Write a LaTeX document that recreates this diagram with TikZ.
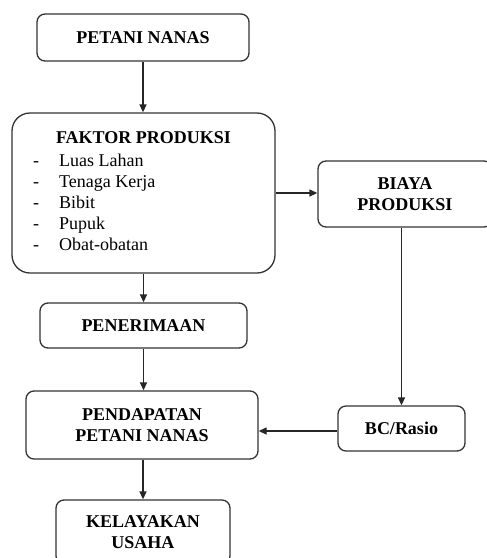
\documentclass[tikz,border=0pt]{standalone}
\usepackage{fontspec}
\setmainfont{Liberation Serif}
\usetikzlibrary{arrows.meta,positioning,calc}
\tikzset{
  flowbox/.style={draw=black!80, line width=1.3pt, rounded corners=8pt,
    align=center, font=\bfseries, inner sep=2pt},
  flowarrow/.style={-{Triangle[length=8pt,width=7pt]}, line width=1.3pt, draw=black!85}
}
\begin{document}
\begin{tikzpicture}[x=1pt,y=-1pt]
  \fontsize{18}{21}\selectfont
  \useasboundingbox (0,0) rectangle (487,558);
  \node[flowbox, minimum width=212pt, minimum height=47pt] (petani) at (143,37.5) {PETANI NANAS};
  \node[flowbox, rounded corners=18pt, minimum width=263pt, minimum height=160pt] (faktor) at (143.5,193) {};
  \node[font=\bfseries, anchor=base] (faktortitle) at (143.5,143) {FAKTOR PRODUKSI};
  \node[anchor=base west, inner sep=0pt, align=left] (faktorlist) at (33,166)
    {\begin{tabular}[t]{@{}p{26pt}@{}l@{}}
      - & Luas Lahan\\ - & Tenaga Kerja\\ - & Bibit\\ - & Pupuk\\ - & Obat-obatan
    \end{tabular}};
  \node[flowbox, minimum width=174pt, minimum height=66pt] (biaya) at (405,194) {BIAYA\\PRODUKSI};
  \node[flowbox, minimum width=207pt, minimum height=45pt] (penerimaan) at (143.5,325.5) {PENERIMAAN};
  \node[flowbox, minimum width=232pt, minimum height=68pt] (pendapatan) at (142,425) {PENDAPATAN\\PETANI NANAS};
  \node[flowbox, minimum width=127pt, minimum height=45pt] (bcrasio) at (401.5,428.5) {BC/Rasio};
  \node[flowbox, minimum width=174pt, minimum height=64pt] (kelayakan) at (143,532) {KELAYAKAN\\USAHA};
  % arrows
  \draw[flowarrow] (petani.south) -- (petani.south |- faktor.north);
  \draw[flowarrow] (faktor.south -| penerimaan.north) -- (penerimaan.north);
  \draw[flowarrow] (penerimaan.south) -- (penerimaan.south |- pendapatan.north);
  \draw[flowarrow] (pendapatan.south -| kelayakan.north) -- (kelayakan.north);
  \draw[flowarrow] (faktor.east) -- (faktor.east -| biaya.west);
  \draw[flowarrow] (bcrasio.north |- biaya.south) -- (bcrasio.north);
  \draw[flowarrow] ($(bcrasio.west)+(0,2.5)$) -- ($(bcrasio.west -| pendapatan.east)+(0,2.5)$);
\end{tikzpicture}
\end{document}
